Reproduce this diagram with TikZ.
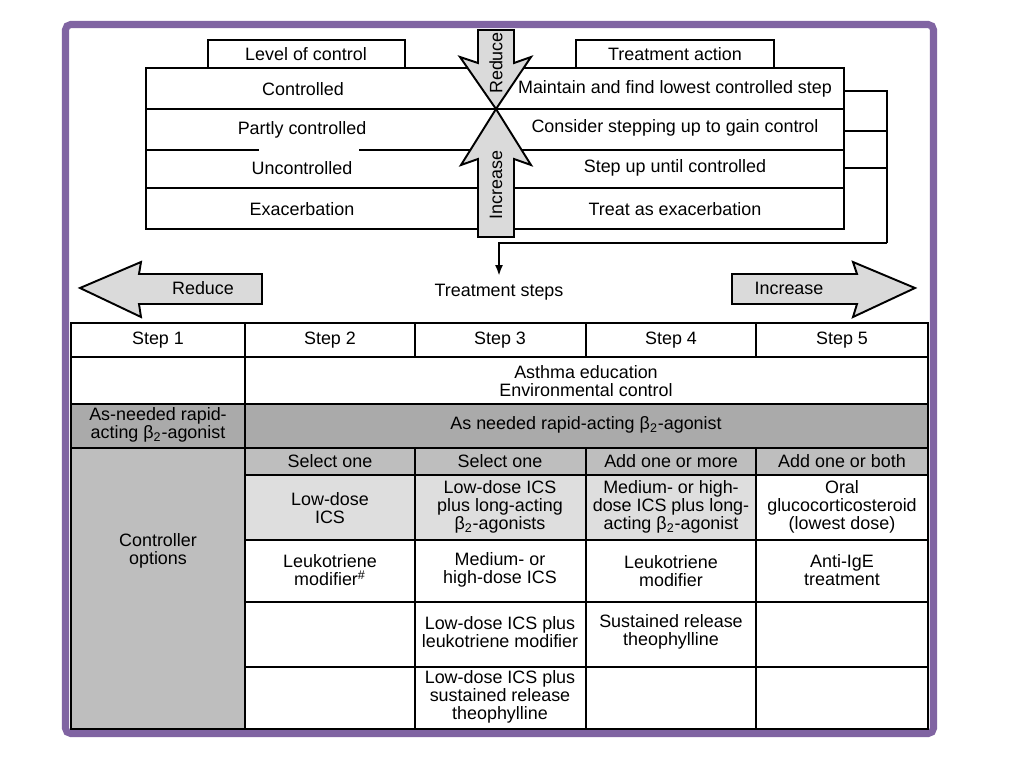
\documentclass[tikz,border=0pt]{standalone}
\usepackage{fontspec}
\setmainfont{Liberation Sans}
\usetikzlibrary{arrows.meta,positioning}
\definecolor{framepurple}{RGB}{128,100,162}
\definecolor{arrowgray}{RGB}{218,218,218}
\definecolor{rapidgray}{RGB}{170,170,170}
\definecolor{optgray}{RGB}{190,190,190}
\definecolor{cellgray}{RGB}{222,222,222}

\begin{document}
\begin{tikzpicture}[x=0.02cm, y=-0.02cm,
  lbl/.style = {font=\fontsize{10.2}{10.4}\selectfont, align=center, inner sep=0pt},
  grid/.style = {line width=1.1pt},
  blockarrow/.style = {draw, fill=arrowgray, line width=1.1pt, line join=miter}]
	\useasboundingbox (0,0) rectangle (1024,768);
	\fill[white] (0,0) rectangle (1024,768);
	\draw[framepurple, line width=4pt, rounded corners=3pt] (65.5,24.5) rectangle (933.5,733.5);

	% level of control / treatment action
	\draw[grid] (208,40) rectangle (405,68);
	\draw[grid] (576,40) rectangle (774,68);
	\draw[grid] (146,68) rectangle (844,229);
	\draw[grid] (146,109) -- (844,109);
	\draw[grid] (146,150) -- (259,150);
	\draw[grid] (359,150) -- (844,150);
	\draw[grid] (146,188) -- (844,188);
	\node[lbl] (level) at (306,54) {Level of control};
	\node[lbl] (action) at (675,54) {Treatment action};
	\node[lbl] (ctrl) at (303,89) {Controlled};
	\node[lbl] (partly) at (302,130) {Partly controlled};
	\node[lbl] (unctrl) at (302,168) {Uncontrolled};
	\node[lbl] (exac) at (302,209) {Exacerbation};
	\node[lbl] (maintain) at (675,89) {Maintain and find lowest controlled step};
	\node[lbl] (consider) at (675,128) {Consider stepping up to gain control};
	\node[lbl] (stepup) at (675,168) {Step up until controlled};
	\node[lbl] (treatex) at (675,209) {Treat as exacerbation};

	% vertical arrows
	\draw[blockarrow] (478,30) -- (514,30) -- (514,63) -- (531,57) -- (496,109)
		-- (460,57) -- (478,63) -- cycle;
	\draw[blockarrow] (496,109) -- (531,165) -- (514,159) -- (514,237) -- (478,237)
		-- (478,159) -- (461,165) -- cycle;
	\node[lbl, rotate=90] (reduceup) at (496,63) {Reduce};
	\node[lbl, rotate=90] (increaseup) at (496,185) {Increase};

	% bracket to treatment steps
	\coordinate (r1) at (844,91);
	\coordinate (r2) at (844,131);
	\coordinate (r3) at (844,168);
	\coordinate (bk) at (887,243);
	\node[lbl, inner ysep=4.5pt] (steps) at (499,292) {Treatment steps};
	\draw[grid] (r1) -| (bk);
	\draw[grid] (r2) -| (bk);
	\draw[grid] (r3) -| (bk);
	\draw[grid, -{Latex[length=6pt,width=4.5pt]}] (bk) -| (steps.north);

	% horizontal arrows
	\draw[blockarrow] (80,288) -- (141,262) -- (139,274) -- (262,274) -- (262,304)
		-- (139,304) -- (141,317) -- cycle;
	\draw[blockarrow] (915,288) -- (853,262) -- (857,274) -- (732,274) -- (732,304)
		-- (857,304) -- (853,317) -- cycle;
	\node[lbl] (reduce) at (203,288) {Reduce};
	\node[lbl] (increase) at (789,288) {Increase};

	% steps table
	\fill[rapidgray] (71,404) rectangle (928,448);
	\fill[optgray] (71,448) rectangle (245,729);
	\fill[optgray] (245,448) rectangle (928,475);
	\fill[cellgray] (245,475) rectangle (756,540);
	\draw[grid] (71,323) rectangle (928,729);
	\foreach \y in {357,404,448}
		\draw[grid] (71,\y) -- (928,\y);
	\foreach \y in {475,540,602,667}
		\draw[grid] (245,\y) -- (928,\y);
	\draw[grid] (245,323) -- (245,729);
	\foreach \x in {415,586,756} {
		\draw[grid] (\x,323) -- (\x,357);
		\draw[grid] (\x,448) -- (\x,729);
	}
	\foreach \i/\x in {1/158,2/330,3/500,4/671,5/842}
		\node[lbl] (step\i) at (\x,340) {Step \i};
	\node[lbl] (education) at (586,381) {Asthma education\\Environmental control};
	\node[lbl] (rapid1) at (158,425) {As-needed rapid-\\acting β\textsubscript{2}-agonist};
	\node[lbl] (rapid) at (586,425) {As needed rapid-acting β\textsubscript{2}-agonist};
	\node[lbl] (options) at (158,551) {Controller\\options};
	\node[lbl] (sel2) at (330,461) {Select one};
	\node[lbl] (sel3) at (500,461) {Select one};
	\node[lbl] (sel4) at (671,461) {Add one or more};
	\node[lbl] (sel5) at (842,461) {Add one or both};
	\node[lbl] (ics2) at (330,508) {Low-dose\\ICS};
	\node[lbl] (ics3) at (500,507) {Low-dose ICS\\plus long-acting\\β\textsubscript{2}-agonists};
	\node[lbl] (ics4) at (671,507) {Medium- or high-\\dose ICS plus long-\\acting β\textsubscript{2}-agonist};
	\node[lbl] (oral5) at (842,507) {Oral\\glucocorticosteroid\\(lowest dose)};
	\node[lbl] (leuko2) at (330,570) {Leukotriene\\modifier\textsuperscript{\#}};
	\node[lbl] (med3) at (500,570) {Medium- or\\high-dose ICS};
	\node[lbl] (leuko4) at (671,571) {Leukotriene\\modifier};
	\node[lbl] (antiige5) at (842,570) {Anti-IgE\\treatment};
	\node[lbl] (leuko3) at (500,632) {Low-dose ICS plus\\leukotriene modifier};
	\node[lbl] (theo4) at (671,632) {Sustained release\\theophylline};
	\node[lbl] (theo3) at (500,697) {Low-dose ICS plus\\sustained release\\theophylline};
\end{tikzpicture}
\end{document}
